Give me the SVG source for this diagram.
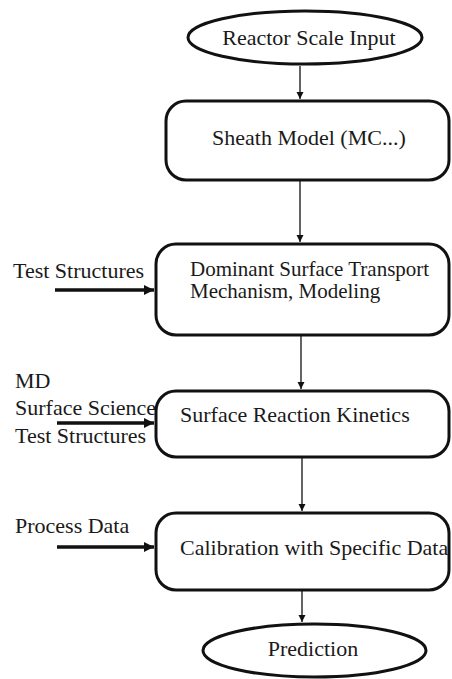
<svg xmlns="http://www.w3.org/2000/svg" width="452" height="679" viewBox="0 0 452 679">
  <style>
    .shape { fill: #ffffff; stroke: #111111; stroke-width: 3; }
    .label { font-family: 'Liberation Serif', 'Times New Roman', serif; font-size: 22px; fill: #1a1a1a; }
    .small { font-size: 21px; }
    .mid { text-anchor: middle; }
    .flow { stroke: #111111; stroke-width: 1.3; fill: none; marker-end: url(#thinHead); }
    .feed { stroke: #111111; stroke-width: 3.5; fill: none; marker-end: url(#thickHead); }
  </style>
  <defs>
    <marker id="thinHead" viewBox="0 0 10 10" refX="10" refY="5" markerWidth="7" markerHeight="9" markerUnits="userSpaceOnUse" orient="auto">
      <path d="M0,0 L10,5 L0,10 Z" fill="#111111"/>
    </marker>
    <marker id="thickHead" viewBox="0 0 10 10" refX="10" refY="5" markerWidth="16" markerHeight="10" markerUnits="userSpaceOnUse" orient="auto">
      <path d="M0,0 L10,5 L0,10 Z" fill="#111111"/>
    </marker>
  </defs>

  <!-- connectors -->
  <g id="connectors">
    <line class="flow" x1="300" y1="66" x2="300" y2="99"/>
    <line class="flow" x1="300" y1="181" x2="300" y2="242"/>
    <line class="flow" x1="301" y1="336" x2="301" y2="389"/>
    <line class="flow" x1="302" y1="458" x2="302" y2="511"/>
    <line class="flow" x1="302" y1="591" x2="302" y2="622"/>
    <line class="feed" x1="55" y1="290" x2="154" y2="290"/>
    <line class="feed" x1="57" y1="423" x2="154" y2="423"/>
    <line class="feed" x1="57" y1="547" x2="154" y2="547"/>
  </g>

  <!-- side inputs -->
  <g id="input-test-structures">
    <text class="label" x="13" y="278">Test Structures</text>
  </g>
  <g id="input-md-surface">
    <text class="label" x="15" y="388">MD</text>
    <text class="label" x="15" y="415">Surface Science</text>
    <text class="label" x="15" y="443">Test Structures</text>
  </g>
  <g id="input-process-data">
    <text class="label" x="15" y="533">Process Data</text>
  </g>

  <!-- main flow -->
  <g id="reactor-input">
    <ellipse class="shape" cx="305" cy="37.5" rx="117" ry="26.5"/>
    <text class="label mid" x="309" y="45">Reactor Scale Input</text>
  </g>

  <g id="sheath-model">
    <rect class="shape" x="166" y="101" width="283" height="79" rx="20" ry="20"/>
    <text class="label" x="212" y="145">Sheath Model (MC...)</text>
  </g>

  <g id="surface-transport">
    <rect class="shape" x="156" y="244" width="293" height="91" rx="20" ry="20"/>
    <text class="label small" x="190" y="276">Dominant Surface Transport</text>
    <text class="label small" x="190" y="298">Mechanism, Modeling</text>
  </g>

  <g id="reaction-kinetics">
    <rect class="shape" x="156" y="391" width="293" height="66" rx="20" ry="20"/>
    <text class="label" x="180" y="422">Surface Reaction Kinetics</text>
  </g>

  <g id="calibration">
    <rect class="shape" x="156" y="513" width="293" height="77" rx="20" ry="20"/>
    <text class="label" x="180" y="555">Calibration with Specific Data</text>
  </g>

  <g id="prediction">
    <ellipse class="shape" cx="314.5" cy="650.5" rx="111.5" ry="26.5"/>
    <text class="label mid" x="313" y="656">Prediction</text>
  </g>
</svg>
